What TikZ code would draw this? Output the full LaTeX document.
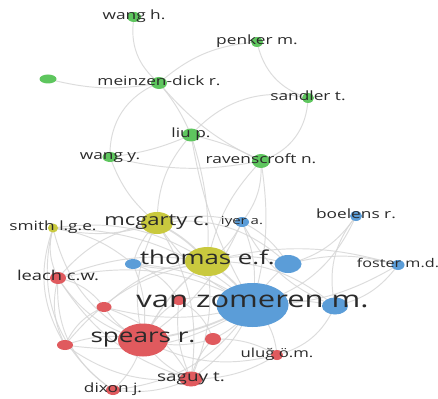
\documentclass[tikz,border=0pt]{standalone}
\usepackage{fontspec}
\newfontfamily\labfont[FakeStretch=1.35]{Open Sans}
\usetikzlibrary{shapes.geometric}
\pgfdeclarelayer{bg}
\pgfdeclarelayer{edges}
\pgfdeclarelayer{labels}
\pgfsetlayers{bg,edges,main,labels}
\definecolor{cgreen}{HTML}{5EC65E}
\definecolor{cblue}{HTML}{5B9DD8}
\definecolor{cyellow}{HTML}{C9C93E}
\definecolor{cred}{HTML}{E05A5E}
\definecolor{labc}{HTML}{2A2A2A}
\definecolor{edgec}{HTML}{D6D6D6}
\tikzset{
  vn/.style={ellipse, inner sep=0pt, draw=none},
  gn/.style={vn, fill=cgreen},
  bn/.style={vn, fill=cblue},
  yn/.style={vn, fill=cyellow},
  rn/.style={vn, fill=cred},
  sz/.style 2 args={minimum width=#1pt, minimum height=#2pt},
  lab/.style={inner sep=0pt, text=labc, text height=0.535em, text depth=0pt, font=\labfont\fontsize{12.8}{13}\selectfont},
  fs/.style={font=\labfont\fontsize{#1}{#1}\selectfont},
  edge/.style={draw=edgec, line width=0.95pt, opacity=0.85},
  heavy/.style={draw=edgec, line width=1.8pt, opacity=0.85}
}
\begin{document}
\begin{tikzpicture}[x=1pt,y=-1pt]
\begin{pgfonlayer}{bg}
\fill[white] (0,0) rectangle (438,398);
\end{pgfonlayer}
\useasboundingbox (0,0) rectangle (438,398);
% green cluster
\node[gn, sz={14}{10}] (wangh) at (134,17) {};
\node[gn, sz={12}{10}] (penker) at (257,42) {};
\node[gn, sz={17}{9}] (g0) at (48,79) {};
\node[gn, sz={16}{12}] (meinzen) at (159,83) {};
\node[gn, sz={12}{10}] (sandler) at (308,98) {};
\node[gn, sz={18}{13}] (liu) at (191,135) {};
\node[gn, sz={15}{10}] (wangy) at (110,157) {};
\node[gn, sz={18}{14}] (raven) at (261,161) {};
% yellow cluster
\node[yn, sz={10}{9}] (smith) at (53,228) {};
\node[yn, sz={32}{22}] (mcgarty) at (157,223) {};
\node[yn, sz={45}{29}] (thomas) at (207.5,261.5) {};
% blue cluster
\node[bn, sz={14}{10}] (iyer) at (242,222) {};
\node[bn, sz={12}{10}] (boelens) at (356,216) {};
\node[bn, sz={16}{10}] (b1) at (133,264) {};
\node[bn, sz={27}{18}] (b2) at (288,264) {};
\node[bn, sz={13}{10}] (foster) at (398,265) {};
\node[bn, sz={72}{44}] (vanz) at (252.5,305) {};
\node[bn, sz={26}{17}] (b3) at (335,306) {};
% red cluster
\node[rn, sz={16}{12}] (leach) at (58,278) {};
\node[rn, sz={15}{10}] (r1) at (104,307) {};
\node[rn, sz={16}{10}] (r2) at (65,345) {};
\node[rn, sz={14}{10}] (r3) at (179,300) {};
\node[rn, sz={16}{12}] (r4) at (213,339) {};
\node[rn, sz={50}{33}] (spears) at (143,340) {};
\node[rn, sz={12}{10}] (ulug) at (277,355) {};
\node[rn, sz={23}{15}] (saguy) at (191,379) {};
\node[rn, sz={14}{10}] (dixon) at (113,390) {};

\begin{pgfonlayer}{edges}
% green edges
\draw[edge, bend right=30] (wangh.center) to (meinzen.center);
\draw[edge, bend right=18] (penker.center) to (meinzen.center);
\draw[edge, bend right=30] (penker.center) to (sandler.center);
\draw[edge, bend right=12] (g0.center) to (meinzen.center);
\draw[edge, bend left=8] (meinzen.center) to (liu.center);
\draw[edge, bend right=12] (meinzen.center) to (raven.center);
\draw[edge, bend right=35] (meinzen.center) to (wangy.center);
\draw[edge, bend right=30] (sandler.center) to (liu.center);
\draw[edge, bend left=35] (sandler.center) to (raven.center);
\draw[edge, bend left=8] (liu.center) to (wangy.center);
\draw[edge, bend left=8] (liu.center) to (raven.center);
\draw[edge, bend right=12] (wangy.center) to (raven.center);
\draw[edge, bend right=15] (wangy.center) to (mcgarty.center);
\draw[edge, bend right=20] (liu.center) to (mcgarty.center);
\draw[edge, bend left=10] (liu.center) to (thomas.center);
\draw[edge, bend right=10] (liu.center) to (vanz.center);
\draw[edge, bend left=12] (raven.center) to (vanz.center);
\draw[edge, bend right=15] (raven.center) to (thomas.center);
\draw[edge, bend left=20] (raven.center) to (iyer.center);
% lower cluster
\draw[heavy, bend left=10] (thomas.center) to (vanz.center);
\draw[heavy, bend right=10] (spears.center) to (vanz.center);
\draw[heavy, bend left=10] (mcgarty.center) to (thomas.center);
\draw[edge, line width=1.3pt, bend left=12] (spears.center) to (thomas.center);
\draw[edge, bend right=15] (mcgarty.center) to (vanz.center);
\draw[edge, bend right=20] (mcgarty.center) to (spears.center);
\draw[edge, bend left=15] (mcgarty.center) to (smith.center);
\draw[edge, bend right=20] (mcgarty.center) to (leach.center);
\draw[edge, bend left=15] (mcgarty.center) to (iyer.center);
\draw[edge, bend right=15] (mcgarty.center) to (b1.center);
\draw[edge, bend left=20] (mcgarty.center) to (saguy.center);
\draw[edge, bend left=25] (mcgarty.center) to (b2.center);
\draw[edge, bend right=15] (thomas.center) to (iyer.center);
\draw[edge, bend left=15] (thomas.center) to (b1.center);
\draw[edge, bend left=15] (thomas.center) to (b2.center);
\draw[edge, bend right=20] (thomas.center) to (smith.center);
\draw[edge, bend right=15] (thomas.center) to (leach.center);
\draw[edge, bend right=20] (thomas.center) to (r1.center);
\draw[edge, bend left=15] (thomas.center) to (saguy.center);
\draw[edge, bend left=20] (thomas.center) to (b3.center);
\draw[edge, bend left=15] (thomas.center) to (foster.center);
\draw[edge, bend right=20] (thomas.center) to (r2.center);
\draw[edge, bend left=10] (vanz.center) to (b2.center);
\draw[edge, bend left=12] (vanz.center) to (b3.center);
\draw[edge, bend right=15] (vanz.center) to (iyer.center);
\draw[edge, bend right=25] (vanz.center) to (boelens.center);
\draw[edge, bend right=15] (vanz.center) to (foster.center);
\draw[edge, bend left=15] (vanz.center) to (saguy.center);
\draw[edge, bend right=15] (vanz.center) to (r3.center);
\draw[edge, bend left=15] (vanz.center) to (r4.center);
\draw[edge, bend left=20] (vanz.center) to (ulug.center);
\draw[edge, bend right=20] (vanz.center) to (leach.center);
\draw[edge, bend left=15] (vanz.center) to (r1.center);
\draw[edge, bend left=20] (vanz.center) to (r2.center);
\draw[edge, bend left=25] (vanz.center) to (dixon.center);
\draw[edge, bend right=15] (vanz.center) to (b1.center);
\draw[edge, bend right=20] (vanz.center) to (smith.center);
\draw[edge, bend left=15] (spears.center) to (r1.center);
\draw[edge, bend right=15] (spears.center) to (r2.center);
\draw[edge, bend left=15] (spears.center) to (r3.center);
\draw[edge, bend right=15] (spears.center) to (r4.center);
\draw[edge, bend right=15] (spears.center) to (saguy.center);
\draw[edge, bend left=15] (spears.center) to (dixon.center);
\draw[edge, bend left=20] (spears.center) to (leach.center);
\draw[edge, bend right=20] (spears.center) to (ulug.center);
\draw[edge, bend left=25] (spears.center) to (smith.center);
\draw[edge, bend right=15] (spears.center) to (b1.center);
\draw[edge, bend right=15] (spears.center) to (iyer.center);
\draw[edge, bend right=20] (leach.center) to (r2.center);
\draw[edge, bend left=20] (leach.center) to (r1.center);
\draw[edge, bend left=20] (leach.center) to (smith.center);
\draw[edge, bend right=30] (leach.center) to (dixon.center);
\draw[edge, bend right=20] (leach.center) to (saguy.center);
\draw[edge, bend left=15] (saguy.center) to (dixon.center);
\draw[edge, bend left=15] (saguy.center) to (r4.center);
\draw[edge, bend right=15] (saguy.center) to (ulug.center);
\draw[edge, bend left=20] (saguy.center) to (r2.center);
\draw[edge, bend right=20] (saguy.center) to (r1.center);
\draw[edge, bend left=15] (saguy.center) to (r3.center);
\draw[edge, bend left=20] (r3.center) to (r4.center);
\draw[edge, bend right=20] (r1.center) to (r2.center);
\draw[edge, bend left=25] (b3.center) to (boelens.center);
\draw[edge, bend right=20] (b3.center) to (foster.center);
\draw[edge, bend left=15] (b2.center) to (foster.center);
\draw[edge, bend right=20] (b2.center) to (boelens.center);
\draw[edge, bend right=15] (b2.center) to (iyer.center);
\draw[edge, bend left=25] (b3.center) to (ulug.center);
\draw[edge, bend right=25] (smith.center) to (r2.center);
\draw[edge, bend right=35] (smith.center) to (dixon.center);
\draw[edge, bend left=15] (smith.center) to (b1.center);
\draw[edge, bend left=20] (b1.center) to (r3.center);
\draw[edge, bend right=20] (iyer.center) to (b3.center);
\draw[edge, bend left=15] (r4.center) to (ulug.center);
\end{pgfonlayer}

\begin{pgfonlayer}{labels}
\node[lab] (t-wangh) at (wangh) {wang h.};
\node[lab] (t-penker) at (penker) {penker m.};
\node[lab] (t-meinzen) at (meinzen) {meinzen-dick r.};
\node[lab] (t-sandler) at (sandler) {sandler t.};
\node[lab] (t-liu) at (liu) {liu p.};
\node[lab] (t-wangy) at (wangy) {wang y.};
\node[lab] (t-raven) at (raven) {ravenscroft n.};
\node[lab] (t-smith) at (smith) {smith l.g.e.};
\node[lab, fs=16.3] (t-mcgarty) at (mcgarty) {mcgarty c.};
\node[lab, fs=11.1] (t-iyer) at (iyer) {iyer a.};
\node[lab] (t-boelens) at (boelens) {boelens r.};
\node[lab, fs=19.1] (t-thomas) at (thomas) {thomas e.f.};
\node[lab, fs=12] (t-foster) at (foster) {foster m.d.};
\node[lab, fs=13.6] (t-leach) at (leach) {leach c.w.};
\node[lab, fs=22.9] (t-vanz) at (vanz) {van zomeren m.};
\node[lab, fs=19.3] (t-spears) at (spears) {spears r.};
\node[lab, fs=12.4] (t-ulug) at (ulug) {uluğ ö.m.};
\node[lab, fs=14] (t-saguy) at (saguy) {saguy t.};
\node[lab] (t-dixon) at (dixon) {dixon j.};
\end{pgfonlayer}
\end{tikzpicture}
\end{document}
